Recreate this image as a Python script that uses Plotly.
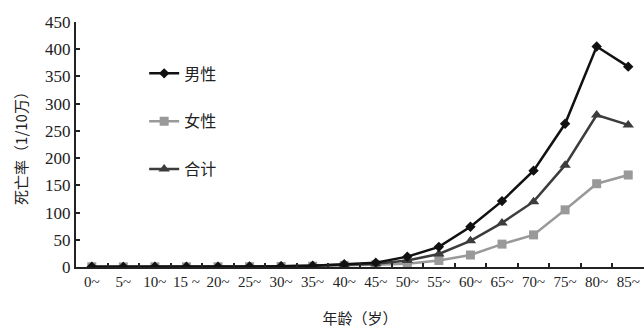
import plotly.graph_objects as go

ages = ["0~", "5~", "10~", "15 ~", "20~", "25~", "30~", "35~", "40~", "45~",
        "50~", "55~", "60~", "65~", "70~", "75~", "80~", "85~"]
male = [0.5, 0.3, 0.4, 0.5, 0.6, 0.8, 1.5, 2.5, 5, 8, 19, 37, 74, 121, 177, 263, 405, 368]
female = [0.4, 0.2, 0.3, 0.3, 0.4, 0.6, 1.0, 1.5, 3, 4, 6, 12, 22, 42, 59, 105, 153, 169]
total = [0.5, 0.3, 0.4, 0.4, 0.5, 0.7, 1.2, 2.0, 4, 6, 12, 24, 48, 81, 120, 187, 279, 261]

names = ["男性", "女性", "合计"]
series = [male, female, total]
colors = ["#111111", "#999999", "#3c3c3c"]
symbols = ["diamond", "square", "triangle-up"]
msizes = [8, 9, 10]
legends = ["legend", "legend2", "legend3"]

fig = go.Figure()
order = [1, 2, 0]
for i in order:
    fig.add_trace(go.Scatter(
        x=ages, y=series[i], name=names[i], mode="lines+markers",
        line=dict(color=colors[i], width=2.5),
        marker=dict(symbol=symbols[i], size=msizes[i], color=colors[i]),
        legend=legends[i],
    ))

font_fam = "Liberation Serif, Times New Roman, DejaVu Serif, serif"
cjk_fam = "Noto Sans CJK SC"
leg_common = dict(bgcolor="rgba(0,0,0,0)", font=dict(family=cjk_fam, size=16, color="#222"),
                  xanchor="left", yanchor="middle", itemwidth=30)
ys = [0.79, 0.595, 0.40]
fig.update_layout(
    width=644, height=328,
    margin=dict(l=76, r=0, t=22, b=61),
    paper_bgcolor="white", plot_bgcolor="white",
    font=dict(family=font_fam, size=15, color="#222"),
    showlegend=True,
    legend=dict(x=0.12, y=ys[0], **leg_common),
    legend2=dict(x=0.12, y=ys[1], **leg_common),
    legend3=dict(x=0.12, y=ys[2], **leg_common),
    xaxis=dict(
        type="category", range=[-0.5, 17.5], showline=True, linecolor="#222", linewidth=2,
        ticks="inside", tickson="boundaries", ticklen=4, tickcolor="#222", tickwidth=1.5,
        showgrid=False, zeroline=False, tickangle=0, automargin=False,
        tickfont=dict(size=15, family=font_fam, color="#222"),
        title=dict(text="年龄（岁）", font=dict(size=15, family=cjk_fam, color="#222"), standoff=24),
    ),
    yaxis=dict(
        range=[0, 450], dtick=50, showline=True, linecolor="#222", linewidth=2,
        ticks="inside", ticklen=4, tickcolor="#222", tickwidth=1.5,
        showgrid=False, zeroline=False, automargin=False,
        tickfont=dict(size=17, family=font_fam, color="#222"),
        title=dict(text="死亡率（1/10万）", font=dict(size=15, family=cjk_fam, color="#222"), standoff=14),
    ),
)
fig.write_html("out.html", config={"displayModeBar": False},
               post_script="document.body.style.margin='0';document.body.style.overflow='hidden';")
